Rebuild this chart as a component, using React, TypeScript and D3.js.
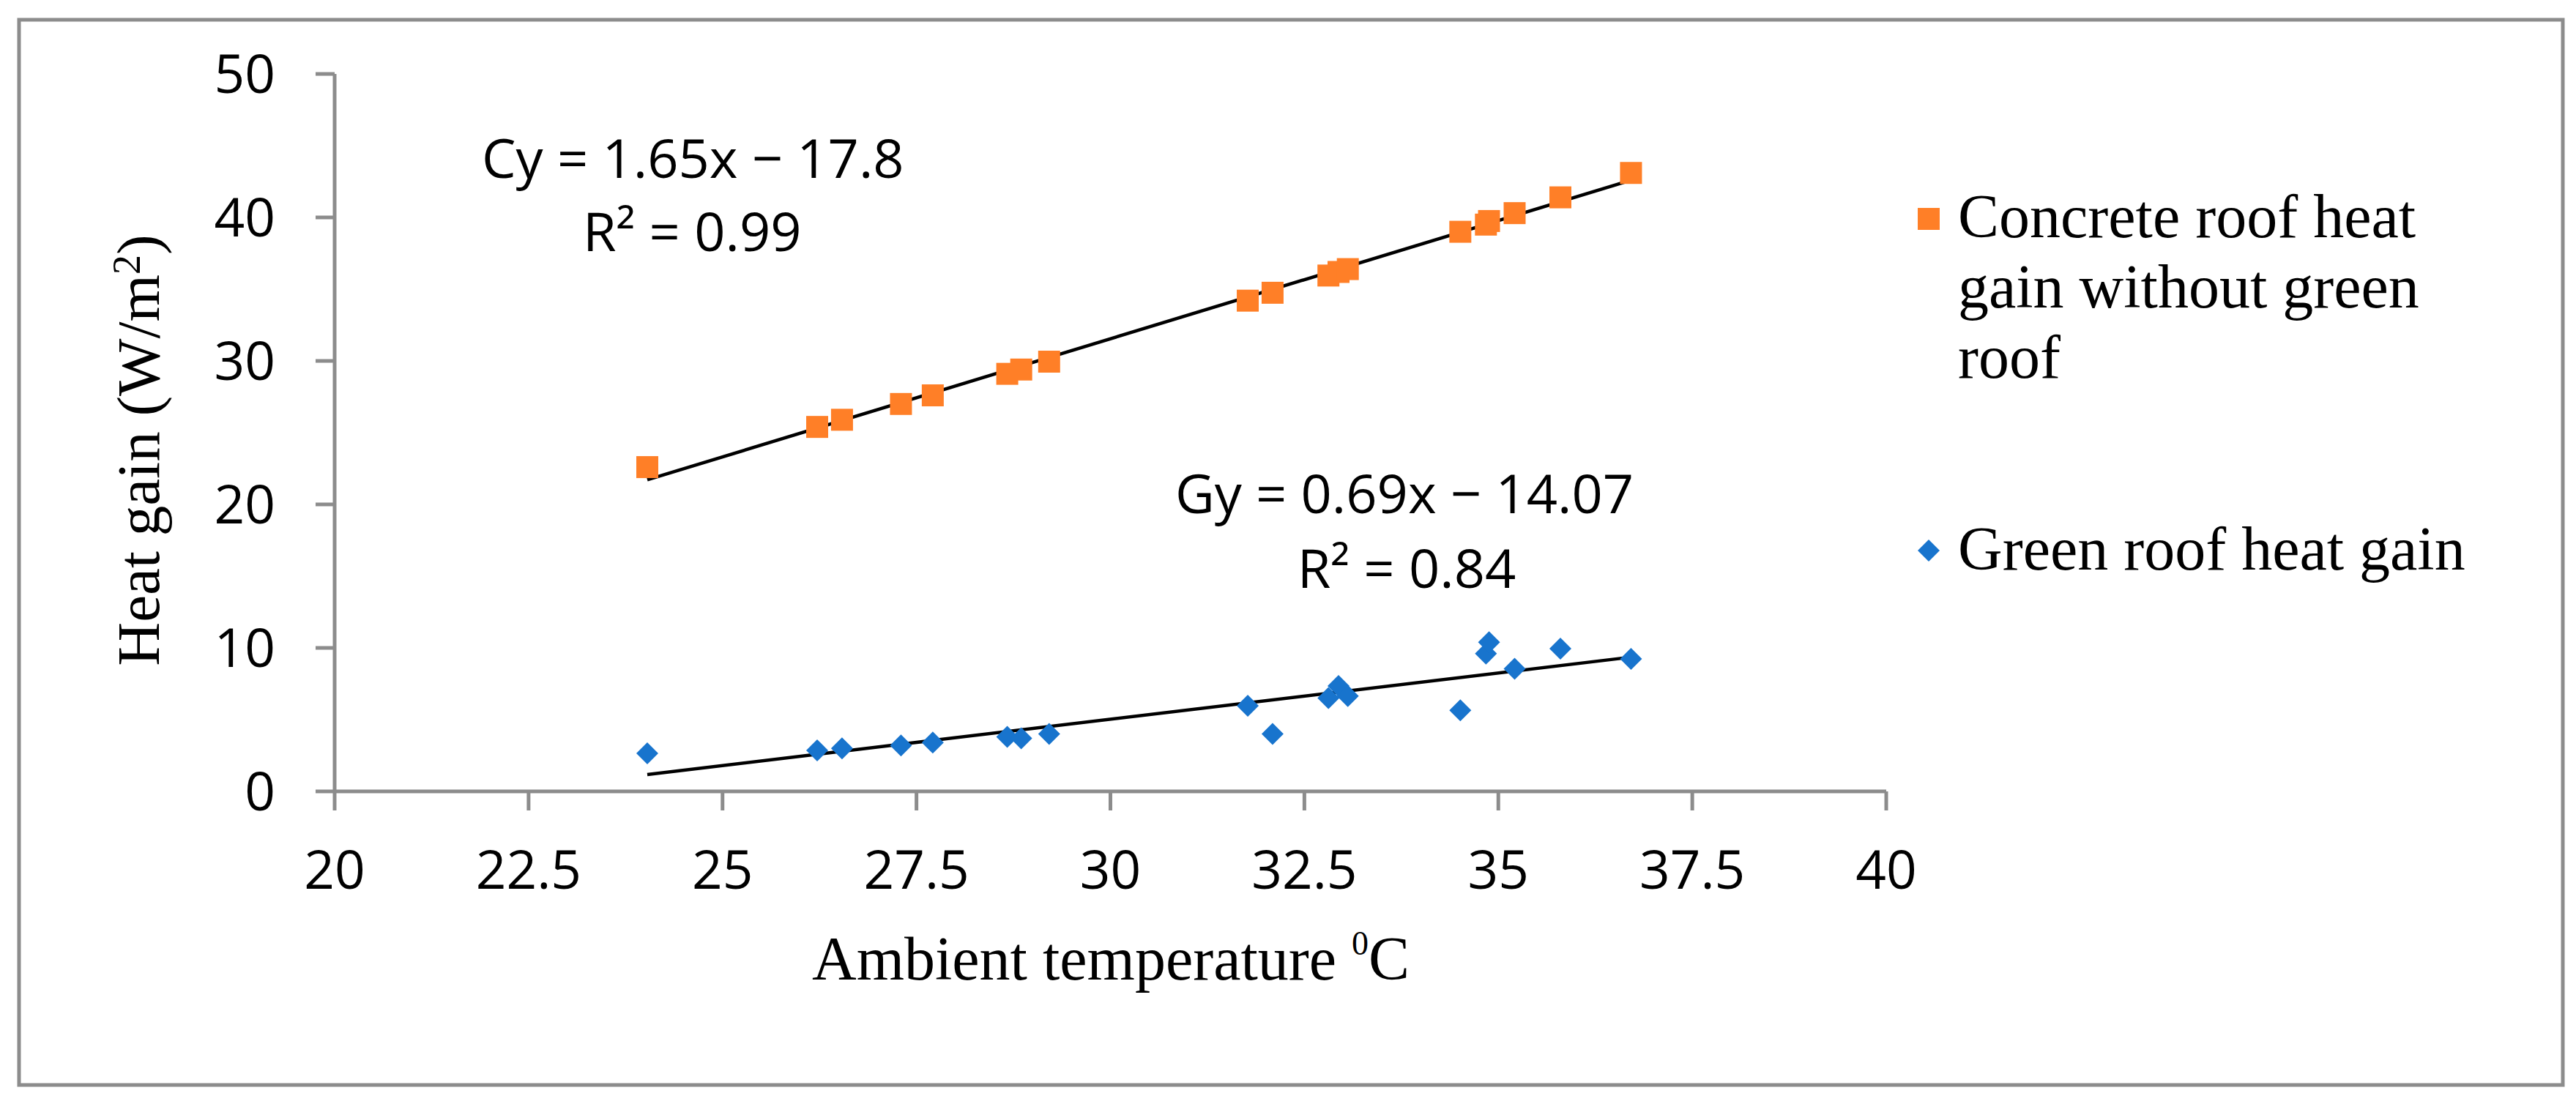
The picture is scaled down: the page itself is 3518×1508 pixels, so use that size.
import React from "react";
import * as d3 from "d3";

// Ambient temperature (°C) for each measurement
const temperature = [
  24.03, 26.22, 26.54, 27.3, 27.71, 28.67, 28.85, 29.21, 31.77, 32.09, 32.81,
  32.94, 33.06, 34.51, 34.84, 34.88, 35.21, 35.8, 36.71,
];

// Heat gain (W/m2)
const concreteGain = [
  22.6, 25.4, 25.9, 27.0, 27.6, 29.1, 29.4, 29.95, 34.2, 34.75, 35.95, 36.2,
  36.4, 39.0, 39.5, 39.75, 40.3, 41.4, 43.1,
];
const greenGain = [
  2.65, 2.86, 3.0, 3.2, 3.4, 3.8, 3.7, 4.0, 5.97, 4.0, 6.5, 7.35, 6.65, 5.65,
  9.6, 10.4, 8.55, 9.95, 9.24,
];

const xTicks = [20, 22.5, 25, 27.5, 30, 32.5, 35, 37.5, 40];
const yTicks = [0, 10, 20, 30, 40, 50];

const concreteEquation = ["Cy = 1.65x \u2212 17.8", "R\u00b2 = 0.99"];
const greenEquation = ["Gy = 0.69x \u2212 14.07", "R\u00b2 = 0.84"];
const concreteLegend = ["Concrete roof heat", "gain without green", "roof"];
const greenLegend = "Green roof heat gain";

const ORANGE = "#FF7F27";
const BLUE = "#1874CD";
const GREY = "#8c8c8c";
const SERIF = "'Liberation Serif', 'Times New Roman', serif";
const SANS = "'Open Sans', 'Liberation Sans', sans-serif";

// least squares fit
function fit(xs: number[], ys: number[]) {
  const mx = d3.mean(xs) as number;
  const my = d3.mean(ys) as number;
  const sxy = d3.sum(xs, (x, i) => (x - mx) * (ys[i] - my));
  const sxx = d3.sum(xs, (x) => (x - mx) * (x - mx));
  const slope = sxy / sxx;
  return { slope, intercept: my - slope * mx };
}

const App: React.FC = () => {
  const width = 3518;
  const height = 1508;

  const xScale = d3.scaleLinear().domain([20, 40]).range([457, 2576]);
  const yScale = d3.scaleLinear().domain([0, 50]).range([1081, 101]);

  const concretePts = temperature.map((t, i) => [t, concreteGain[i]]);
  const greenPts = temperature.map((t, i) => [t, greenGain[i]]);

  const xExtent = d3.extent(temperature) as [number, number];
  const line = d3
    .line<number[]>()
    .x((d) => xScale(d[0]))
    .y((d) => yScale(d[1]));

  const trend = (ys: number[]) => {
    const { slope, intercept } = fit(temperature, ys);
    return line(xExtent.map((x) => [x, slope * x + intercept]));
  };

  const square = d3.symbol().type(d3.symbolSquare).size(900)();
  const diamond = d3.symbol().type(d3.symbolSquare).size(450)();

  return (
    <svg
      width={width}
      height={height}
      style={{ position: "absolute", left: 0, top: 0, background: "#fff" }}
    >
      <rect x={0} y={0} width={width} height={height} fill="#fff" />
      <rect
        x={26}
        y={27}
        width={3474}
        height={1455}
        fill="none"
        stroke={GREY}
        strokeWidth={5}
      />

      {/* y axis */}
      <line
        x1={xScale(20)}
        x2={xScale(20)}
        y1={yScale(50)}
        y2={yScale(0)}
        stroke={GREY}
        strokeWidth={5}
      />
      {yTicks.map((t) => (
        <g key={"y" + t}>
          <line
            x1={xScale(20) - 26}
            x2={xScale(20)}
            y1={yScale(t)}
            y2={yScale(t)}
            stroke={GREY}
            strokeWidth={5}
          />
          <text
            x={376}
            y={yScale(t)}
            dy="0.36em"
            textAnchor="end"
            fontFamily={SANS}
            fontSize={73}
          >
            {t}
          </text>
        </g>
      ))}

      {/* x axis */}
      <line
        x1={xScale(20)}
        x2={xScale(40)}
        y1={yScale(0)}
        y2={yScale(0)}
        stroke={GREY}
        strokeWidth={5}
      />
      {xTicks.map((t) => (
        <g key={"x" + t}>
          <line
            x1={xScale(t)}
            x2={xScale(t)}
            y1={yScale(0)}
            y2={yScale(0) + 26}
            stroke={GREY}
            strokeWidth={5}
          />
          <text
            x={xScale(t)}
            y={1214}
            textAnchor="middle"
            fontFamily={SANS}
            fontSize={73}
          >
            {t}
          </text>
        </g>
      ))}

      {/* axis titles */}
      <text x={1109} y={1338} fontFamily={SERIF} fontSize={84}>
        Ambient temperature{" "}
        <tspan fontSize={46} dy={-34}>
          0
        </tspan>
        <tspan dy={34}>C</tspan>
      </text>
      <text
        transform="translate(217, 615) rotate(-90)"
        textAnchor="middle"
        fontFamily={SERIF}
        fontSize={83}
      >
        Heat gain (W/m
        <tspan fontSize={54} dy={-26}>
          2
        </tspan>
        <tspan dy={26}>)</tspan>
      </text>

      {/* trend lines */}
      <path d={trend(concreteGain) || ""} fill="none" stroke="#000" strokeWidth={4.5} />
      <path d={trend(greenGain) || ""} fill="none" stroke="#000" strokeWidth={4.5} />

      {/* points */}
      {concretePts.map((d, i) => (
        <path
          key={"c" + i}
          d={square || ""}
          transform={`translate(${xScale(d[0])}, ${yScale(d[1])})`}
          fill={ORANGE}
        />
      ))}
      {greenPts.map((d, i) => (
        <path
          key={"g" + i}
          d={diamond || ""}
          transform={`translate(${xScale(d[0])}, ${yScale(d[1])}) rotate(45)`}
          fill={BLUE}
        />
      ))}

      {/* trend equations */}
      <text fontFamily={SANS} fontSize={74}>
        <tspan x={658} y={243}>
          {concreteEquation[0]}
        </tspan>
        <tspan x={796} y={343}>
          {concreteEquation[1]}
        </tspan>
      </text>
      <text fontFamily={SANS} fontSize={74} textAnchor="middle">
        <tspan x={1918} y={701}>
          {greenEquation[0]}
        </tspan>
        <tspan x={1921} y={803}>
          {greenEquation[1]}
        </tspan>
      </text>

      {/* legend */}
      <path d={square || ""} transform="translate(2634, 299)" fill={ORANGE} />
      <text fontFamily={SERIF} fontSize={84}>
        {concreteLegend.map((s, i) => (
          <tspan key={s} x={2674} y={324 + i * 96}>
            {s}
          </tspan>
        ))}
      </text>
      <path
        d={diamond || ""}
        transform="translate(2634, 752) rotate(45)"
        fill={BLUE}
      />
      <text x={2674} y={778} fontFamily={SERIF} fontSize={84}>
        {greenLegend}
      </text>
    </svg>
  );
};

export default App;
